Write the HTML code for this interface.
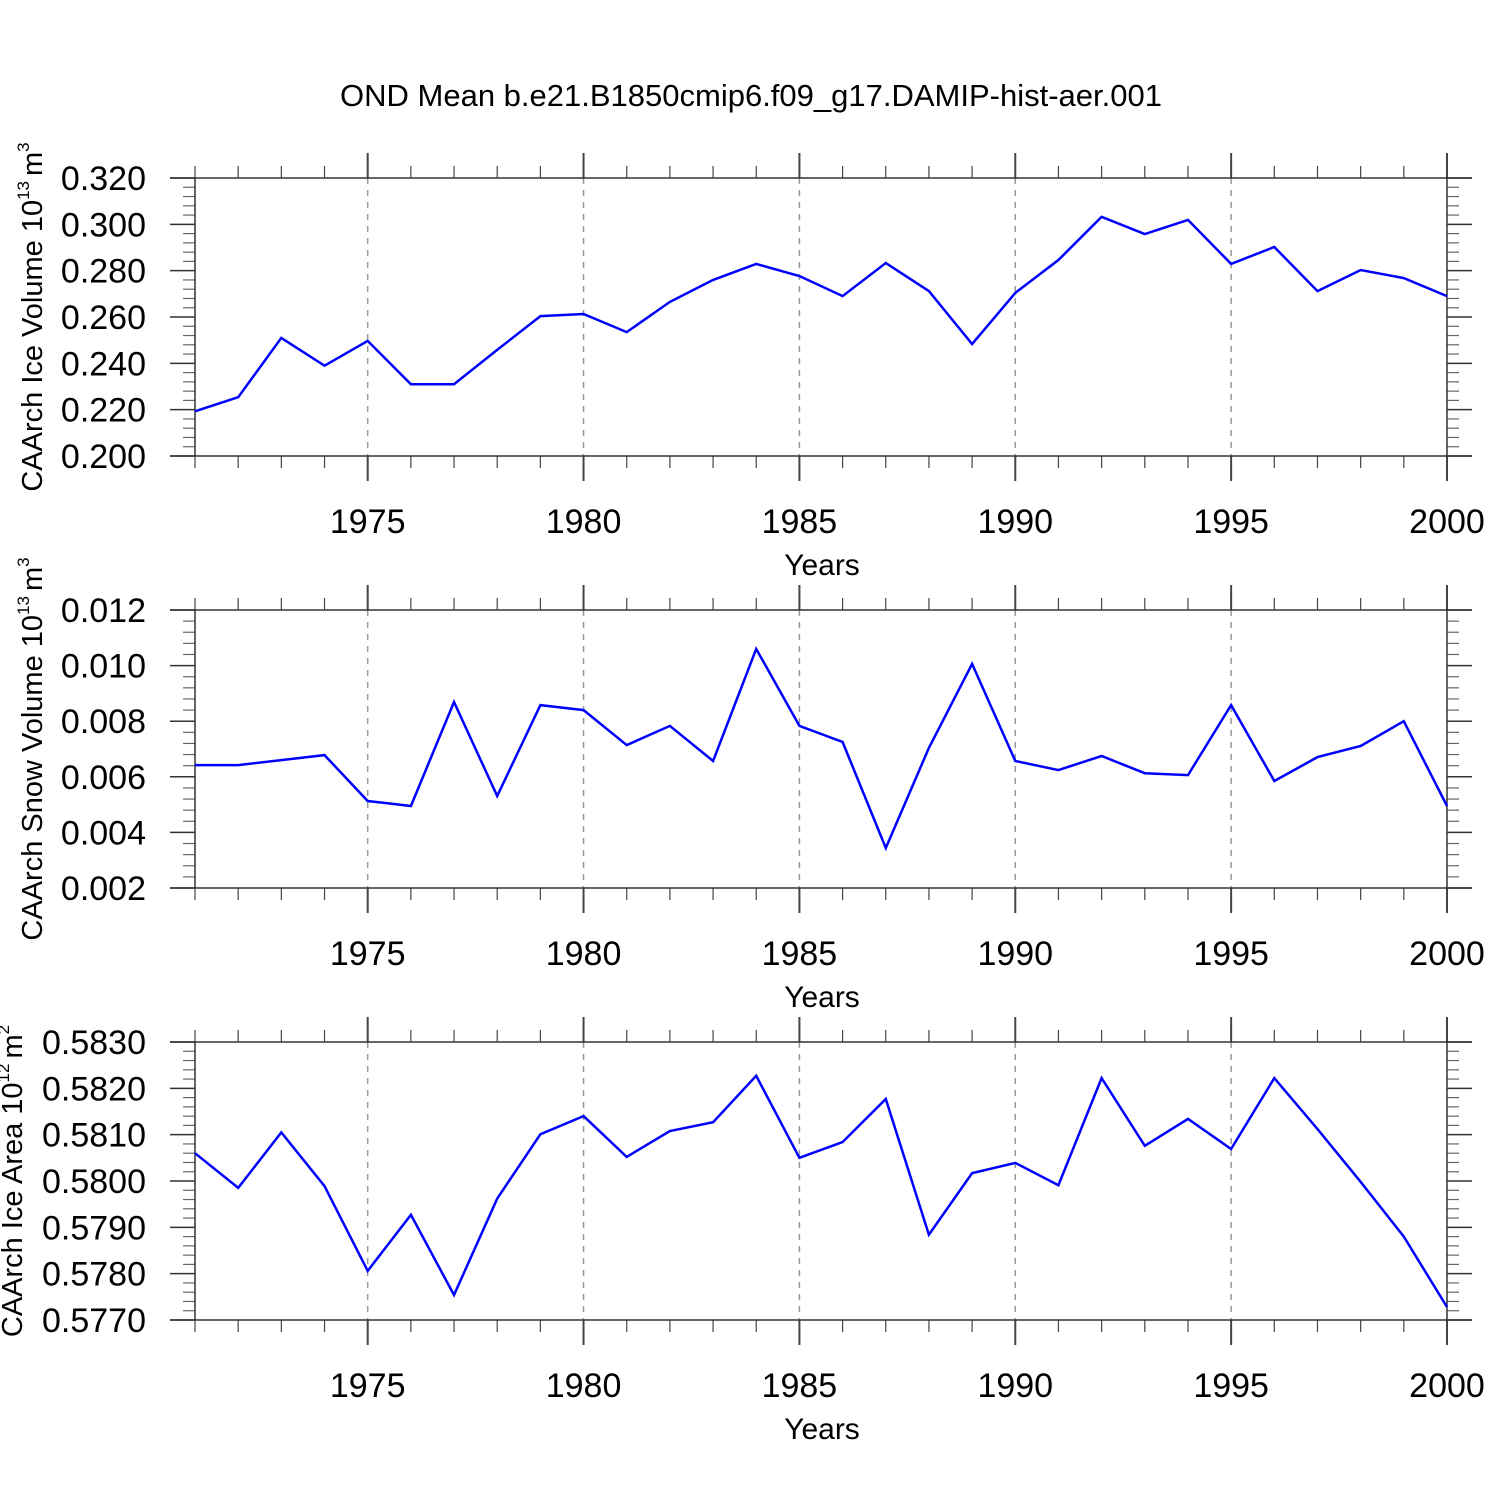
<!DOCTYPE html>
<html><head><meta charset="utf-8"><style>
html,body{margin:0;padding:0;background:#fff}
svg{display:block;font-family:"Liberation Sans",sans-serif}
</style></head><body>
<svg id="chart" width="1500" height="1500" viewBox="0 0 1500 1500" xmlns="http://www.w3.org/2000/svg">
<text x="751" y="106" font-size="31" text-anchor="middle">OND Mean b.e21.B1850cmip6.f09_g17.DAMIP-hist-aer.001</text>
</svg>
<script>
const years = [1971,1972,1973,1974,1975,1976,1977,1978,1979,1980,1981,1982,1983,1984,1985,1986,1987,1988,1989,1990,1991,1992,1993,1994,1995,1996,1997,1998,1999,2000];
const iceVolume = [0.2193,0.2254,0.251,0.239,0.2497,0.231,0.231,0.2458,0.2604,0.2613,0.2535,0.2665,0.276,0.2829,0.2777,0.269,0.2833,0.2712,0.2483,0.2704,0.2846,0.3032,0.2958,0.3019,0.2829,0.2902,0.2712,0.2803,0.2768,0.269];
const snowVolume = [0.00642,0.00642,0.0066,0.00678,0.00513,0.00495,0.00869,0.00531,0.00858,0.0084,0.00714,0.00783,0.00657,0.0106,0.00783,0.00725,0.00344,0.00704,0.01006,0.00657,0.00624,0.00675,0.00613,0.00606,0.00858,0.00585,0.00671,0.00711,0.008,0.00495];
const iceArea = [0.5806,0.57985,0.58105,0.57989,0.57806,0.57927,0.57754,0.57962,0.58101,0.5814,0.58052,0.58108,0.58127,0.58227,0.5805,0.58084,0.58177,0.57884,0.58017,0.58039,0.57991,0.58222,0.58076,0.58134,0.58069,0.58222,0.58112,0.57998,0.5788,0.57728];
const xTicks = [1975,1980,1985,1990,1995,2000];
const yTicks1 = [0.2,0.22,0.24,0.26,0.28,0.3,0.32];
const yTicks2 = [0.002,0.004,0.006,0.008,0.010,0.012];
const yTicks3 = [0.577,0.578,0.579,0.58,0.581,0.582,0.583];

const NS="http://www.w3.org/2000/svg";
const svg=document.getElementById('chart');
function mk(tag,attrs,parent){const e=document.createElementNS(NS,tag);for(const k in attrs)e.setAttribute(k,attrs[k]);(parent||svg).appendChild(e);return e;}
const X0=195,X1=1447,xmin=1971,xmax=2000;
const xs=v=>X0+(v-xmin)/(xmax-xmin)*(X1-X0);

function panel(name,top,data,ticks,dec,titleMain,titleExp,titleUnit,unitExp,titleX){
  const bot=top+278, ymin=ticks[0], ymax=ticks[ticks.length-1];
  const ys=v=>bot-(v-ymin)/(ymax-ymin)*(bot-top);
  const g=mk('g',{});
  
  
  xTicks.forEach(t=>{if(t<xmax){const l=mk('line',{x1:xs(t),x2:xs(t),y1:top,y2:bot,stroke:'#999','stroke-width':1.5,'stroke-dasharray':'6,6'},g);
    }});
  years.forEach(y=>{
    const x=xs(y), major=xTicks.includes(y);
    const len=major?25:12;
    mk('line',{x1:x,x2:x,y1:top,y2:top-len,stroke:'#444','stroke-width':major?2:1.2},g);
    mk('line',{x1:x,x2:x,y1:bot,y2:bot+len,stroke:'#444','stroke-width':major?2:1.2},g);
  });
  const step=(ticks[1]-ticks[0])/5;
  for(let i=0;i<ticks.length-1;i++){for(let j=1;j<5;j++){const y=ys(ticks[i]+step*j);
    mk('line',{x1:X0,x2:X0-12,y1:y,y2:y,stroke:'#666','stroke-width':1.2},g);
    mk('line',{x1:X1,x2:X1+12,y1:y,y2:y,stroke:'#666','stroke-width':1.2},g);}}
  ticks.forEach(t=>{const y=ys(t);
    mk('line',{x1:X0-25,x2:X0,y1:y,y2:y,stroke:'#333','stroke-width':1.5},g);
    mk('line',{x1:X1,x2:X1+25,y1:y,y2:y,stroke:'#333','stroke-width':1.5},g);
    const tx=mk('text',{x:146,y:y+12,'font-size':34,'text-anchor':'end'},g);tx.textContent=t.toFixed(dec);
    });
  mk('line',{x1:X0-25,x2:X1+25,y1:top,y2:top,stroke:'#333','stroke-width':1.5},g);
  mk('line',{x1:X0-25,x2:X1+25,y1:bot,y2:bot,stroke:'#333','stroke-width':1.5},g);
  mk('line',{x1:X0,x2:X0,y1:top,y2:bot,stroke:'#333','stroke-width':1.5},g);
  mk('line',{x1:X1,x2:X1,y1:top,y2:bot,stroke:'#333','stroke-width':1.5},g);
  xTicks.forEach(t=>{const tx=mk('text',{x:xs(t),y:bot+77,'font-size':34,'text-anchor':'middle'},g);tx.textContent=t;
    });
  const xt=mk('text',{x:822,y:bot+119,'font-size':30,'text-anchor':'middle'},g);xt.textContent='Years';
  
  const cy=(top+bot)/2;
  const yt=mk('text',{x:0,y:0,'font-size':29,'text-anchor':'middle',transform:`translate(${titleX},${cy}) rotate(-90)`},g);
  
  const a=mk('tspan',{},yt);a.textContent=titleMain;
  const b=mk('tspan',{dy:-13,'font-size':17},yt);b.textContent=titleExp;
  const c=mk('tspan',{dy:13,dx:5},yt);c.textContent=titleUnit;
  const d=mk('tspan',{dy:-13,'font-size':17},yt);d.textContent=unitExp;
  const pts=data.map((v,i)=>xs(years[i]).toFixed(1)+','+ys(v).toFixed(1)).join(' ');
  const pl=mk('polyline',{points:pts,fill:'none',stroke:'#0000ff','stroke-width':2.5,'stroke-linejoin':'miter'},g);
  
}
panel('ice-volume',178,iceVolume,yTicks1,3,'CAArch Ice Volume 10','13','m','3',42);
panel('snow-volume',610,snowVolume,yTicks2,3,'CAArch Snow Volume 10','13','m','3',42);
panel('ice-area',1042,iceArea,yTicks3,4,'CAArch Ice Area 10','12','m','2',22);
</script>
</body></html>
